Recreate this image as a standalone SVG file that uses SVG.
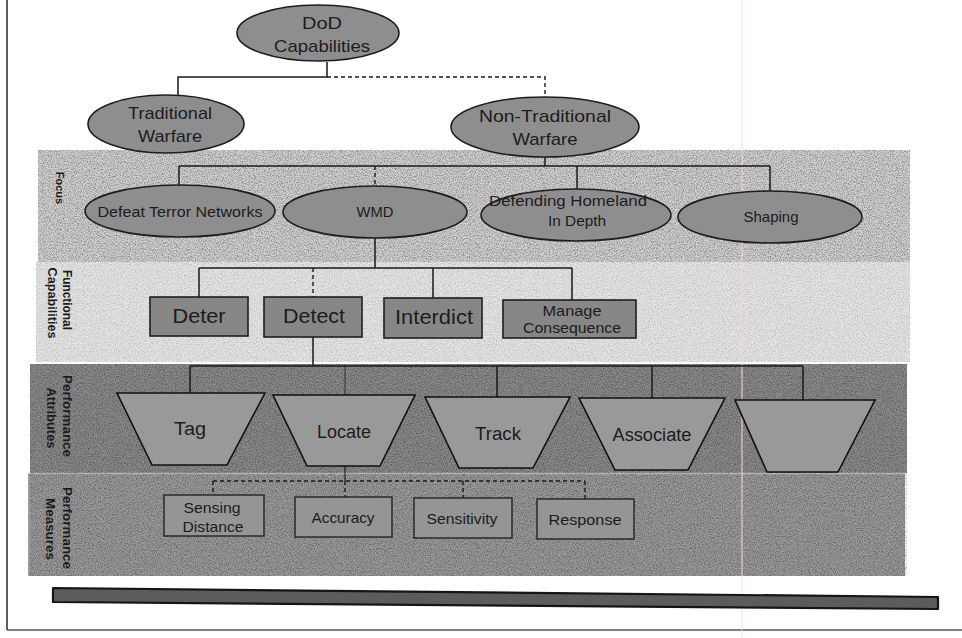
<svg xmlns="http://www.w3.org/2000/svg" width="962" height="638" viewBox="0 0 962 638">
<defs>
<filter id="grain" x="0" y="0" width="100%" height="100%">
<feTurbulence type="fractalNoise" baseFrequency="0.85" numOctaves="2" seed="7" result="n"/>
<feColorMatrix in="n" type="matrix" values="0 0 0 0 0  0 0 0 0 0  0 0 0 0 0  1.6 0 0 0 -0.62" result="a"/>
<feComposite in="a" in2="SourceGraphic" operator="in"/>
</filter>
</defs>
<style>
.t{font-family:"Liberation Sans",Arial,sans-serif;fill:#1c1c1c;text-anchor:middle}
.lab{font-family:"Liberation Sans",Arial,sans-serif;font-weight:bold;font-size:12px;fill:#1c1c1c;text-anchor:middle}
.labs{font-family:"Liberation Sans",Arial,sans-serif;font-weight:bold;font-size:11px;fill:#1c1c1c;text-anchor:middle}
.ell{fill:#8e8e8e;stroke:#1e1e1e;stroke-width:1.6}
.box{fill:#878787;stroke:#1e1e1e;stroke-width:1.6}
.pm{fill:#959595;stroke:#2a2a2a;stroke-width:1.5}
.trap{fill:#999999;stroke:#111;stroke-width:1.6}
.c{fill:none;stroke:#1a1a1a;stroke-width:1.5}
.d{fill:none;stroke:#1a1a1a;stroke-width:1.4;stroke-dasharray:4 3}
</style>
<rect width="962" height="638" fill="#ffffff"/>
<!-- bands -->
<g id="bands">
<rect x="38" y="150" width="872" height="112" fill="#d2d2d2"/>
<rect x="36" y="262" width="874" height="100" fill="#e6e6e6"/>
<rect x="30" y="364" width="877" height="109" fill="#8b8b8b"/>
<rect x="28" y="474" width="877" height="102" fill="#9b9b9b"/>
<line x1="28" y1="473.5" x2="905" y2="473.5" stroke="#c4c4c4" stroke-width="1.5"/>
<g filter="url(#grain)" opacity="0.55">
<rect x="38" y="150" width="872" height="112" fill="#000"/>
<rect x="36" y="262" width="874" height="100" fill="#000" opacity="0.5"/>
<rect x="30" y="364" width="877" height="212" fill="#000"/>
</g>
</g>
<!-- frame -->
<g id="frame">
<line x1="7" y1="0" x2="7" y2="630" stroke="#333" stroke-width="1.6"/>
<line x1="7" y1="630" x2="962" y2="630" stroke="#555" stroke-width="1.6"/>
<line x1="742" y1="0" x2="742" y2="638" stroke="#eed8e2" stroke-width="2" opacity="0.5"/>
</g>
<!-- labels -->
<g id="labels">
<text class="labs" transform="translate(56,188) rotate(90)">Focus</text>
<text class="lab" transform="translate(63,300) rotate(90)" textLength="60" lengthAdjust="spacingAndGlyphs">Functional</text>
<text class="lab" transform="translate(48,303) rotate(90)" textLength="71" lengthAdjust="spacingAndGlyphs">Capabilities</text>
<text class="lab" transform="translate(63,416) rotate(90)" textLength="82" lengthAdjust="spacingAndGlyphs">Performance</text>
<text class="lab" transform="translate(47,418) rotate(90)" textLength="61" lengthAdjust="spacingAndGlyphs">Attributes</text>
<text class="lab" transform="translate(63,528) rotate(90)" textLength="82" lengthAdjust="spacingAndGlyphs">Performance</text>
<text class="lab" transform="translate(46,529) rotate(90)" textLength="62" lengthAdjust="spacingAndGlyphs">Measures</text>
</g>
<!-- connectors -->
<g id="connectors">
<path class="c" d="M327 62 V77 H178 V95"/>
<path class="d" d="M327 77 H545 V98"/>
<path class="c" d="M545 157 V166 M179 166 H770 M179 166 V186 M577 166 V189 M770 166 V191"/>
<path class="d" d="M375 166 V187"/>
<path class="c" d="M375 238 V268 M199 268 H572 M199 268 V297 M433 268 V298 M572 268 V300"/>
<path class="d" d="M313 268 V297"/>
<path class="c" d="M313 337 V366 M190 366 H803 M190 366 V393 M497 366 V397 M652 366 V398 M803 366 V400"/>
<path class="c" d="M345 366 V395" stroke-opacity="0.5"/>
<path class="c" d="M345 466 V481" stroke-opacity="0.7"/>
<path class="d" d="M213 481 H585 M213 481 V495 M345 481 V497 M463 481 V498 M585 481 V499"/>
</g>
<!-- top level -->
<g id="dod">
<ellipse class="ell" cx="318" cy="33" rx="81" ry="28"/>
<text class="t" x="322" y="29" font-size="17" textLength="40" lengthAdjust="spacingAndGlyphs">DoD</text>
<text class="t" x="322" y="52" font-size="17" textLength="96" lengthAdjust="spacingAndGlyphs">Capabilities</text>
</g>
<g id="traditional">
<ellipse class="ell" cx="166" cy="124" rx="78" ry="29"/>
<text class="t" x="170" y="119" font-size="17" textLength="84" lengthAdjust="spacingAndGlyphs">Traditional</text>
<text class="t" x="170" y="142" font-size="17" textLength="64" lengthAdjust="spacingAndGlyphs">Warfare</text>
</g>
<g id="nontraditional">
<ellipse class="ell" cx="545" cy="127" rx="94" ry="30"/>
<text class="t" x="545" y="122" font-size="17" textLength="132" lengthAdjust="spacingAndGlyphs">Non-Traditional</text>
<text class="t" x="545" y="145" font-size="17" textLength="65" lengthAdjust="spacingAndGlyphs">Warfare</text>
</g>
<!-- focus -->
<g id="defeat">
<ellipse class="ell" cx="180" cy="211" rx="95" ry="26"/>
<text class="t" x="180" y="217" font-size="15" textLength="165" lengthAdjust="spacingAndGlyphs">Defeat Terror Networks</text>
</g>
<g id="wmd">
<ellipse class="ell" cx="375" cy="212" rx="92" ry="26"/>
<text class="t" x="375" y="217" font-size="15" textLength="37" lengthAdjust="spacingAndGlyphs">WMD</text>
</g>
<g id="defending">
<ellipse class="ell" cx="576" cy="215" rx="95" ry="26"/>
<text class="t" x="568" y="206" font-size="15" textLength="158" lengthAdjust="spacingAndGlyphs">Defending Homeland</text>
<text class="t" x="577" y="226" font-size="15" textLength="58" lengthAdjust="spacingAndGlyphs">In Depth</text>
</g>
<g id="shaping">
<ellipse class="ell" cx="770" cy="217" rx="92" ry="26"/>
<text class="t" x="771" y="222" font-size="15" textLength="55" lengthAdjust="spacingAndGlyphs">Shaping</text>
</g>
<!-- functional -->
<g id="deter">
<rect class="box" x="150" y="297" width="98" height="39"/>
<text class="t" x="199" y="323" font-size="20" textLength="53" lengthAdjust="spacingAndGlyphs">Deter</text>
</g>
<g id="detect">
<rect class="box" x="264" y="297" width="98" height="40"/>
<text class="t" x="314" y="323" font-size="20" textLength="62" lengthAdjust="spacingAndGlyphs">Detect</text>
</g>
<g id="interdict">
<rect class="box" x="384" y="298" width="98" height="40"/>
<text class="t" x="434" y="324" font-size="20" textLength="78" lengthAdjust="spacingAndGlyphs">Interdict</text>
</g>
<g id="manage">
<rect class="box" x="503" y="300" width="133" height="38"/>
<text class="t" x="572" y="316" font-size="15" textLength="59" lengthAdjust="spacingAndGlyphs">Manage</text>
<text class="t" x="572" y="333" font-size="15" textLength="98" lengthAdjust="spacingAndGlyphs">Consequence</text>
</g>
<!-- performance attributes -->
<g id="tag">
<polygon class="trap" points="117,393 265,393 227,465 152,465"/>
<text class="t" x="190" y="435" font-size="18" textLength="32" lengthAdjust="spacingAndGlyphs">Tag</text>
</g>
<g id="locate">
<polygon class="trap" points="273,395 415,395 380,466 307,466"/>
<text class="t" x="344" y="438" font-size="18" textLength="54" lengthAdjust="spacingAndGlyphs">Locate</text>
</g>
<g id="track">
<polygon class="trap" points="425,397 570,397 533,468 459,468"/>
<text class="t" x="498" y="440" font-size="18" textLength="46" lengthAdjust="spacingAndGlyphs">Track</text>
</g>
<g id="associate">
<polygon class="trap" points="579,398 725,398 688,470 615,470"/>
<text class="t" x="652" y="441" font-size="18" textLength="79" lengthAdjust="spacingAndGlyphs">Associate</text>
</g>
<g id="blank">
<polygon class="trap" points="735,400 875,400 838,472 767,472"/>
</g>
<!-- performance measures -->
<g id="sensing">
<rect class="pm" x="164" y="495" width="100" height="41"/>
<text class="t" x="212" y="513" font-size="15" textLength="57" lengthAdjust="spacingAndGlyphs">Sensing</text>
<text class="t" x="213" y="532" font-size="15" textLength="61" lengthAdjust="spacingAndGlyphs">Distance</text>
</g>
<g id="accuracy">
<rect class="pm" x="295" y="497" width="97" height="40"/>
<text class="t" x="343" y="523" font-size="15" textLength="63" lengthAdjust="spacingAndGlyphs">Accuracy</text>
</g>
<g id="sensitivity">
<rect class="pm" x="414" y="498" width="98" height="40"/>
<text class="t" x="462" y="524" font-size="15" textLength="71" lengthAdjust="spacingAndGlyphs">Sensitivity</text>
</g>
<g id="response">
<rect class="pm" x="537" y="499" width="97" height="40"/>
<text class="t" x="585" y="525" font-size="15" textLength="73" lengthAdjust="spacingAndGlyphs">Response</text>
</g>
<!-- bottom bar -->
<g id="bar">
<polygon points="53,588 938,597 938,609 53,602" fill="#5c5c5c" stroke="#151515" stroke-width="2.2" stroke-linejoin="round"/>
</g>
</svg>
